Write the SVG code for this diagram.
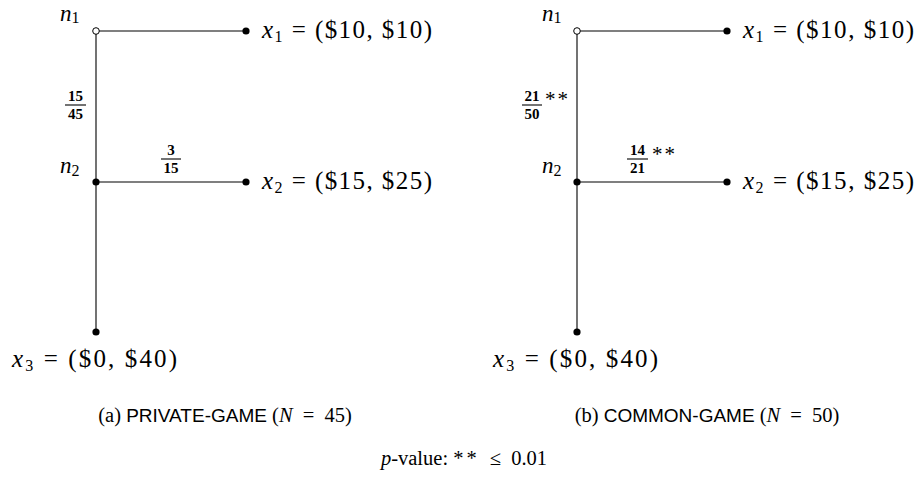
<svg xmlns="http://www.w3.org/2000/svg" width="919" height="483" viewBox="0 0 919 483">
<style>
.m{font-family:"Liberation Serif",serif;font-size:25px;fill:#000}
.n{font-family:"Liberation Serif",serif;font-size:23px;fill:#000}
.i{font-style:italic}
.sub{font-size:16px}
.fr{font-family:"Liberation Serif",serif;font-size:15px;font-weight:bold;text-anchor:middle;fill:#000}
.st{font-family:"Liberation Serif",serif;font-size:21px;fill:#000;letter-spacing:2px}
.cap{font-family:"Liberation Serif",serif;font-size:20.5px;fill:#000}
.sans{font-family:"Liberation Sans",sans-serif;font-size:19px}
.edge{stroke:#000;stroke-width:1.1;fill:none}
.bar{stroke:#000;stroke-width:1.1}
.dot{fill:#000}
.open{fill:#fff;stroke:#000;stroke-width:1}
</style>
<rect width="919" height="483" fill="#fff"/>

<g id="connectors">
  <path class="edge" d="M96,31 V332 M96,31 H246 M96,182 H246"/>
  <path class="edge" d="M577,31 V332 M577,31 H727 M577,182 H727"/>
</g>

<g id="edge-labels">
  <text class="fr" x="75.5" y="101">15</text>
  <line class="bar" x1="65" y1="105" x2="86" y2="105"/>
  <text class="fr" x="75.5" y="119">45</text>

  <text class="fr" x="171" y="155">3</text>
  <line class="bar" x1="161" y1="159" x2="181" y2="159"/>
  <text class="fr" x="171" y="173">15</text>

  <text class="fr" x="532" y="101">21</text>
  <line class="bar" x1="522" y1="105" x2="542" y2="105"/>
  <text class="fr" x="532" y="119">50</text>
  <text class="st" x="545" y="106">**</text>

  <text class="fr" x="637.5" y="155">14</text>
  <line class="bar" x1="627" y1="159" x2="648" y2="159"/>
  <text class="fr" x="637.5" y="173">21</text>
  <text class="st" x="652" y="161">**</text>
</g>

<g id="n1-a">
  <circle class="open" cx="96" cy="31" r="3.3"/>
  <text class="n" x="60" y="21"><tspan class="i">n</tspan><tspan class="sub" dy="2">1</tspan></text>
</g>
<g id="n2-a">
  <circle class="dot" cx="96" cy="182" r="3.6"/>
  <text class="n" x="60" y="173"><tspan class="i">n</tspan><tspan class="sub" dy="3">2</tspan></text>
</g>
<g id="x1-a">
  <circle class="dot" cx="246" cy="31" r="3.6"/>
  <text class="m" x="262" y="38" textLength="170"><tspan class="i">x</tspan><tspan class="sub" dy="4">1</tspan><tspan dy="-4"> = ($10, $10)</tspan></text>
</g>
<g id="x2-a">
  <circle class="dot" cx="246" cy="182" r="3.6"/>
  <text class="m" x="262" y="189" textLength="170"><tspan class="i">x</tspan><tspan class="sub" dy="4">2</tspan><tspan dy="-4"> = ($15, $25)</tspan></text>
</g>
<g id="x3-a">
  <circle class="dot" cx="96" cy="332" r="3.6"/>
  <text class="m" x="12" y="367" textLength="165"><tspan class="i">x</tspan><tspan class="sub" dy="4">3</tspan><tspan dy="-4"> = ($0, $40)</tspan></text>
</g>

<g id="n1-b">
  <circle class="open" cx="577" cy="31" r="3.3"/>
  <text class="n" x="542" y="21"><tspan class="i">n</tspan><tspan class="sub" dy="2">1</tspan></text>
</g>
<g id="n2-b">
  <circle class="dot" cx="577" cy="182" r="3.6"/>
  <text class="n" x="542" y="173"><tspan class="i">n</tspan><tspan class="sub" dy="3">2</tspan></text>
</g>
<g id="x1-b">
  <circle class="dot" cx="727" cy="31" r="3.6"/>
  <text class="m" x="743" y="38" textLength="171"><tspan class="i">x</tspan><tspan class="sub" dy="4">1</tspan><tspan dy="-4"> = ($10, $10)</tspan></text>
</g>
<g id="x2-b">
  <circle class="dot" cx="727" cy="182" r="3.6"/>
  <text class="m" x="743" y="189" textLength="171"><tspan class="i">x</tspan><tspan class="sub" dy="4">2</tspan><tspan dy="-4"> = ($15, $25)</tspan></text>
</g>
<g id="x3-b">
  <circle class="dot" cx="577" cy="332" r="3.6"/>
  <text class="m" x="493" y="367" textLength="165"><tspan class="i">x</tspan><tspan class="sub" dy="4">3</tspan><tspan dy="-4"> = ($0, $40)</tspan></text>
</g>

<text class="cap" x="225" y="422" text-anchor="middle">(a) <tspan class="sans">PRIVATE-GAME</tspan> (<tspan class="i">N</tspan><tspan dx="5"> = </tspan><tspan dx="5">45)</tspan></text>
<text class="cap" x="707" y="422" text-anchor="middle">(b) <tspan class="sans">COMMON-GAME</tspan> (<tspan class="i">N</tspan><tspan dx="5"> = </tspan><tspan dx="5">50)</tspan></text>
<text class="cap" x="464" y="465" text-anchor="middle"><tspan class="i">p</tspan>-value: <tspan letter-spacing="3">**</tspan><tspan dx="5"> ≤ </tspan><tspan dx="5">0.01</tspan></text>
</svg>
